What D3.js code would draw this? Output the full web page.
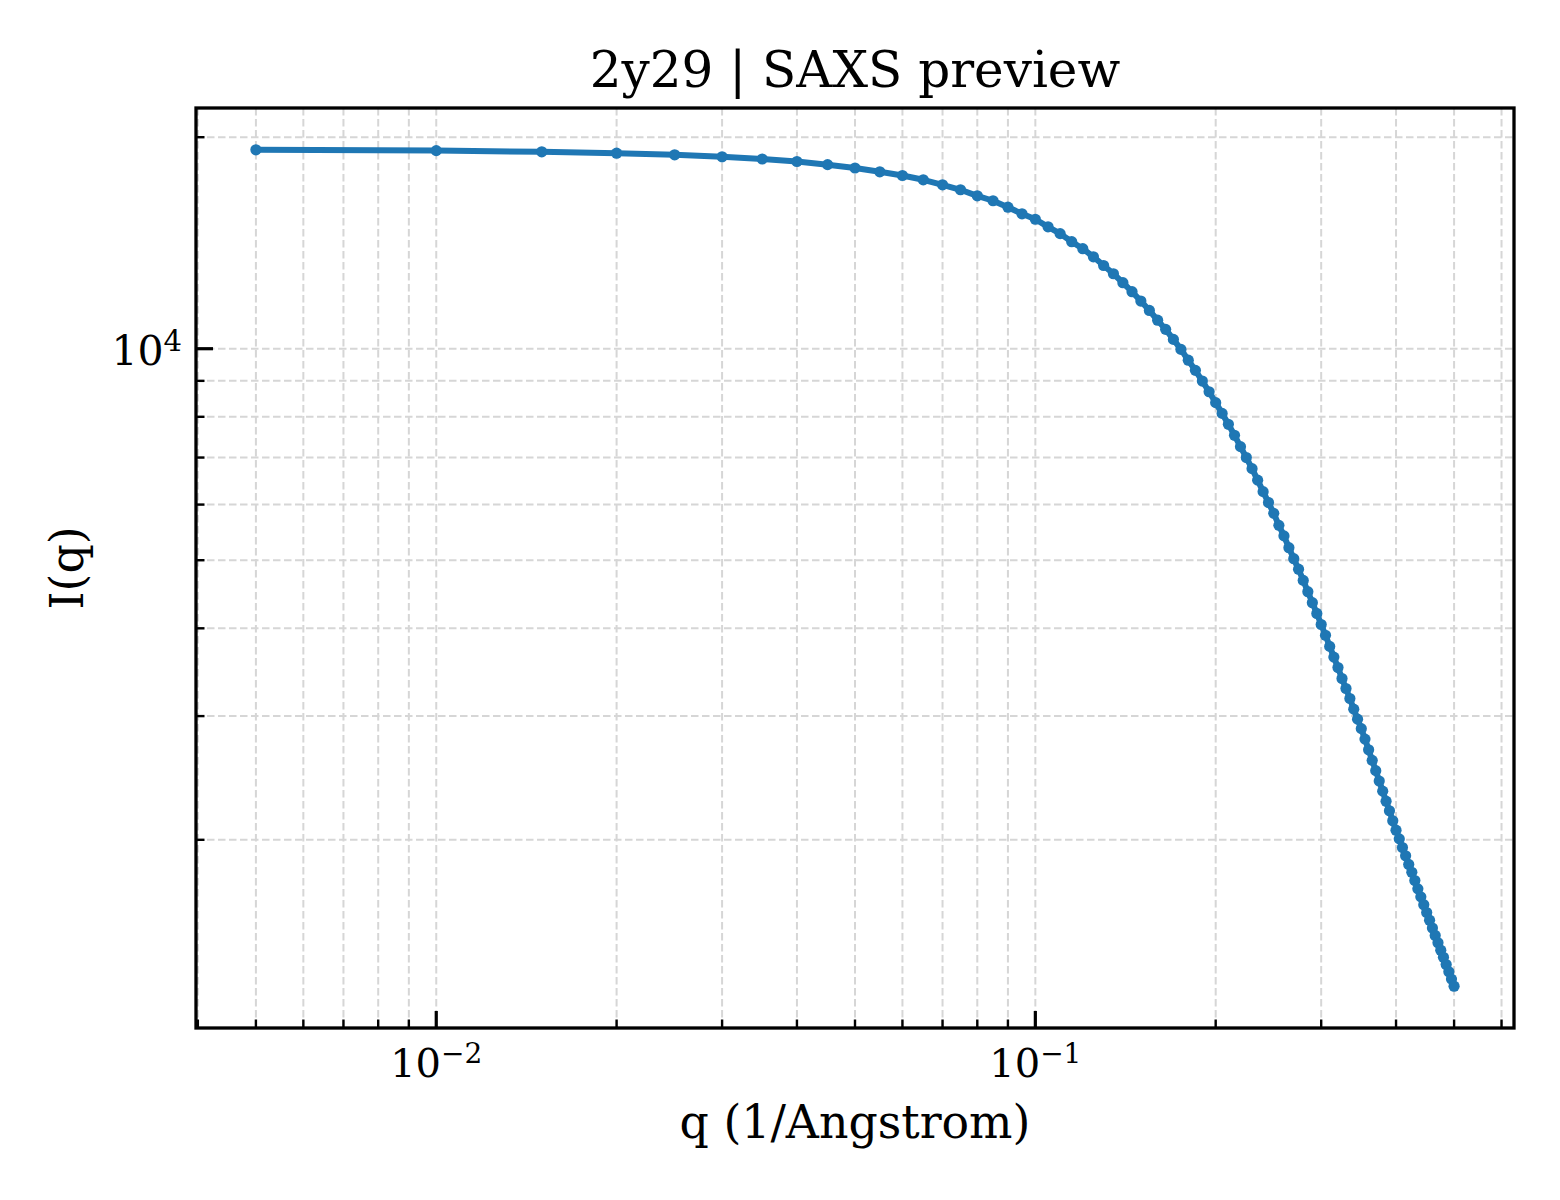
<!DOCTYPE html>
<html>
<head>
<meta charset="utf-8">
<script src="https://cdn.jsdelivr.net/npm/d3@7"></script>
<style>
    body { margin: 0; background: #fff; }
    text { font-family: "DejaVu Serif", serif; fill: #000; }
</style>
</head>
<body>
<div id="chart"></div>
<script>
// Scattering vector q (1/Angstrom)
const qValues = [
    0.005, 0.010, 0.015, 0.020, 0.025, 0.030, 0.035, 0.040, 0.045, 0.050,
    0.055, 0.060, 0.065, 0.070, 0.075, 0.080, 0.085, 0.090, 0.095, 0.100,
    0.105, 0.110, 0.115, 0.120, 0.125, 0.130, 0.135, 0.140, 0.145, 0.150,
    0.155, 0.160, 0.165, 0.170, 0.175, 0.180, 0.185, 0.190, 0.195, 0.200,
    0.205, 0.210, 0.215, 0.220, 0.225, 0.230, 0.235, 0.240, 0.245, 0.250,
    0.255, 0.260, 0.265, 0.270, 0.275, 0.280, 0.285, 0.290, 0.295, 0.300,
    0.305, 0.310, 0.315, 0.320, 0.325, 0.330, 0.335, 0.340, 0.345, 0.350,
    0.355, 0.360, 0.365, 0.370, 0.375, 0.380, 0.385, 0.390, 0.395, 0.400,
    0.405, 0.410, 0.415, 0.420, 0.425, 0.430, 0.435, 0.440, 0.445, 0.450,
    0.455, 0.460, 0.465, 0.470, 0.475, 0.480, 0.485, 0.490, 0.495, 0.500
];

// Scattered intensity I(q)
const intensity = [
    19190, 19140, 19065, 18980, 18880, 18755, 18620, 18470, 18280, 18080,
    17855, 17640, 17395, 17110, 16835, 16505, 16240, 15900, 15560, 15285,
    14910, 14580, 14200, 13880, 13515, 13135, 12785, 12415, 12055, 11690,
    11335, 10980, 10655, 10310, 9977, 9630, 9315, 8995, 8685, 8380,
    8090, 7805, 7530, 7255, 7000, 6750, 6500, 6260, 6040, 5830,
    5605, 5415, 5210, 5025, 4855, 4680, 4510, 4350, 4200, 4050,
    3910, 3770, 3640, 3517, 3393, 3284, 3178, 3069, 2970, 2879,
    2782, 2686, 2595, 2509, 2425, 2346, 2270, 2200, 2129, 2064,
    2006, 1950, 1898, 1845, 1798, 1750, 1703, 1659, 1617, 1576,
    1537, 1498, 1462, 1427, 1393, 1361, 1329, 1298, 1267, 1238
];

// Labelled (major) ticks and their exponents
const xMajorTicks = [0.01, 0.1];
const xTickExponents = ["\u22122", "\u22121"];
const yMajorTicks = [10000];
const yTickExponents = ["4"];

const chartTitle = "2y29 | SAXS preview";
const xLabel = "q (1/Angstrom)";
const yLabel = "I(q)";

drawChart();

function drawChart()
{
    // Set up the dimensions of the chart
    const margin = {top: 108, right: 46, bottom: 172, left: 196};
    const width = 1560 - margin.left - margin.right;
    const height = 1200 - margin.top - margin.bottom;

    const data = qValues.map((q, i) => ({q: q, I: intensity[i]}));

    // Log domains padded by 5% of the decades spanned on each side
    function paddedLogDomain(values)
    {
        const ext = d3.extent(values).map(Math.log10);
        const pad = (ext[1] - ext[0]) * 0.05;
        return [Math.pow(10, ext[0] - pad), Math.pow(10, ext[1] + pad)];
    }

    const x = d3.scaleLog()
        .domain(paddedLogDomain(qValues))
        .range([0, width]);

    const y = d3.scaleLog()
        .domain(paddedLogDomain(intensity))
        .range([height, 0]);

    // Create the SVG element
    const svg = d3.select("#chart")
        .append("svg")
        .attr("width", width + margin.left + margin.right)
        .attr("height", height + margin.top + margin.bottom)
        .style("background", "#fff")
        .append("g")
        .attr("transform", `translate(${margin.left}, ${margin.top})`);

    const xTicksAll = x.ticks();
    const yTicksAll = y.ticks();
    const isMajor = (list, v) => list.some(m => Math.abs(m - v) / m < 1e-9);

    // Dashed grid lines on major and minor ticks
    const grid = svg.append("g").attr("class", "grid");

    grid.selectAll(".vgrid")
        .data(xTicksAll)
        .enter()
        .append("line")
        .attr("x1", d => x(d))
        .attr("x2", d => x(d))
        .attr("y1", 0)
        .attr("y2", height);

    grid.selectAll(".hgrid")
        .data(yTicksAll)
        .enter()
        .append("line")
        .attr("x1", 0)
        .attr("x2", width)
        .attr("y1", d => y(d))
        .attr("y2", d => y(d));

    grid.selectAll("line")
        .attr("stroke", "#d6d6d6")
        .attr("stroke-width", 2)
        .attr("stroke-dasharray", "7.5,3.5");

    // Draw the curve
    const line = d3.line()
        .x(d => x(d.q))
        .y(d => y(d.I));

    svg.append("path")
        .datum(data)
        .attr("d", line)
        .attr("fill", "none")
        .attr("stroke", "#1f77b4")
        .attr("stroke-width", 6)
        .attr("stroke-linejoin", "round")
        .attr("stroke-linecap", "round");

    svg.selectAll(".dot")
        .data(data)
        .enter()
        .append("circle")
        .attr("class", "dot")
        .attr("cx", d => x(d.q))
        .attr("cy", d => y(d.I))
        .attr("r", 5.6)
        .attr("fill", "#1f77b4");

    // Inward ticks on the bottom and left axes only
    const ticks = svg.append("g").attr("class", "ticks");
    const tickLen = d => isMajor(xMajorTicks.concat(yMajorTicks), d) ? 17 : 8.5;
    const tickW = d => isMajor(xMajorTicks.concat(yMajorTicks), d) ? 3.2 : 2.4;

    ticks.selectAll(".x-tick")
        .data(xTicksAll.filter(d => x(d) > 1))
        .enter()
        .append("line")
        .attr("class", "x-tick")
        .attr("x1", d => x(d))
        .attr("x2", d => x(d))
        .attr("y1", height)
        .attr("y2", d => height - tickLen(d))
        .attr("stroke", "#000")
        .attr("stroke-width", d => tickW(d));

    ticks.selectAll(".y-tick")
        .data(yTicksAll)
        .enter()
        .append("line")
        .attr("class", "y-tick")
        .attr("y1", d => y(d))
        .attr("y2", d => y(d))
        .attr("x1", 0)
        .attr("x2", d => tickLen(d))
        .attr("stroke", "#000")
        .attr("stroke-width", d => tickW(d));

    // Frame around the plot
    svg.append("rect")
        .attr("x", 0)
        .attr("y", 0)
        .attr("width", width)
        .attr("height", height)
        .attr("fill", "none")
        .attr("stroke", "#000")
        .attr("stroke-width", 3.3);

    // x tick labels as powers of ten
    const xLabels = svg.selectAll(".x-tick-label")
        .data(xMajorTicks)
        .enter()
        .append("text")
        .attr("class", "x-tick-label")
        .attr("x", d => x(d))
        .attr("y", height + 49)
        .attr("text-anchor", "middle")
        .style("font-size", "40px")
        .text("10");

    xLabels.append("tspan")
        .attr("dy", -14)
        .style("font-size", "28px")
        .text((d, i) => xTickExponents[i]);

    // y tick labels as powers of ten
    const yLabels = svg.selectAll(".y-tick-label")
        .data(yMajorTicks)
        .enter()
        .append("text")
        .attr("class", "y-tick-label")
        .attr("x", -14)
        .attr("y", d => y(d) + 16)
        .attr("text-anchor", "end")
        .style("font-size", "41px")
        .text("10");

    yLabels.append("tspan")
        .attr("dy", -14)
        .style("font-size", "29px")
        .text((d, i) => yTickExponents[i]);

    // Chart title
    svg.append("text")
        .attr("x", width / 2)
        .attr("y", -21)
        .attr("text-anchor", "middle")
        .style("font-size", "50px")
        .text(chartTitle);

    // x-axis label
    svg.append("text")
        .attr("x", width / 2)
        .attr("y", height + 110)
        .attr("text-anchor", "middle")
        .style("font-size", "45.8px")
        .text(xLabel);

    // y-axis label
    svg.append("text")
        .attr("transform", `translate(${83 - margin.left}, ${height / 2}) rotate(-90)`)
        .attr("text-anchor", "middle")
        .style("font-size", "45.8px")
        .text(yLabel);
}
</script>
</body>
</html>
